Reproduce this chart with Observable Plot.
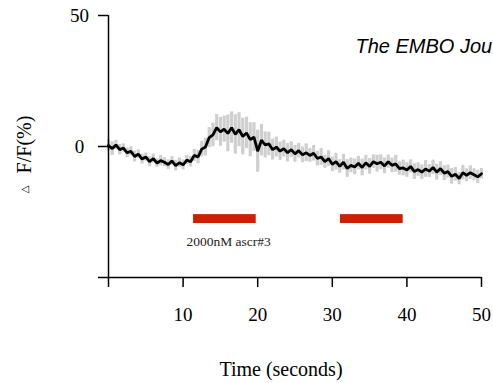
<!DOCTYPE html>
<html>
<head>
<meta charset="utf-8">
<script src="https://cdn.jsdelivr.net/npm/d3@7"></script>
<script src="https://cdn.jsdelivr.net/npm/@observablehq/plot@0.6"></script>
<style>
  html, body { margin: 0; padding: 0; background: #fff; overflow: hidden; }
  #chart { width: 493px; height: 383px; }
</style>
</head>
<body>
<div id="chart"></div>
<script>
// Time (seconds)
const times = [
  0,0.5,1,1.5,2,2.5,3,3.5,4,4.5,
  5,5.5,6,6.5,7,7.5,8,8.5,9,9.5,
  10,10.5,11,11.5,12,12.5,13,13.5,14,14.5,
  15,15.5,16,16.5,17,17.5,18,18.5,19,19.5,
  20,20.5,21,21.5,22,22.5,23,23.5,24,24.5,
  25,25.5,26,26.5,27,27.5,28,28.5,29,29.5,
  30,30.5,31,31.5,32,32.5,33,33.5,34,34.5,
  35,35.5,36,36.5,37,37.5,38,38.5,39,39.5,
  40,40.5,41,41.5,42,42.5,43,43.5,44,44.5,
  45,45.5,46,46.5,47,47.5,48,48.5,49,49.5,
  50
];
// Mean ΔF/F (%)
const meanValues = [
  0.4,-0.8,0.6,-1.2,-0.6,-2.4,-1.8,-3.8,-2.9,-4.8,
  -4.0,-5.8,-4.6,-6.3,-5.4,-6.0,-6.9,-5.5,-7.3,-6.2,
  -7.0,-5.2,-5.8,-3.4,-4.0,-1.0,-0.2,3.4,4.4,7.2,
  5.6,6.6,5.0,7.2,4.6,6.4,3.8,5.2,2.6,3.6,
  -1.8,2.4,0.6,1.0,-1.2,-0.2,-1.8,-0.8,-2.4,-1.2,
  -2.8,-1.6,-3.2,-2.4,-3.4,-2.6,-4.6,-4.0,-5.8,-4.6,
  -6.8,-5.8,-7.6,-6.0,-8.4,-7.2,-7.8,-6.4,-8.0,-6.2,
  -7.6,-5.8,-6.6,-6.0,-7.4,-5.8,-7.2,-6.6,-8.4,-8.2,
  -9.0,-7.6,-9.6,-8.8,-9.8,-8.6,-9.4,-8.0,-9.8,-8.4,
  -10.2,-9.6,-11.4,-10.6,-12.2,-10.0,-11.0,-10.0,-10.8,-11.6,
  -10.4
];
// Error (±, %)
const errValues = [
  2.2,2.6,1.8,2.0,1.6,1.9,1.7,2.1,1.6,1.9,
  1.5,1.9,1.7,1.6,2.0,1.7,1.8,1.6,2.0,1.8,
  1.9,1.7,2.0,2.3,2.6,3.0,3.4,3.8,4.5,5.0,
  5.5,5.0,7.0,6.0,7.5,6.5,7.0,6.0,6.5,5.5,
  8.0,6.0,5.0,4.5,4.0,3.8,3.5,3.2,3.5,3.0,
  3.2,2.8,3.0,3.4,2.6,3.0,2.8,3.2,2.5,3.0,
  2.8,3.2,2.6,3.0,3.4,2.8,3.0,2.6,3.2,2.8,
  3.0,2.6,3.2,2.8,3.0,2.5,2.8,3.2,2.6,3.0,
  2.8,2.5,3.0,2.6,2.8,3.2,2.5,2.8,3.0,2.6,
  2.8,2.5,3.0,2.6,2.4,2.8,2.5,2.6,2.3,2.5,
  2.0
];
// Stimulus periods
const stimStart = [11.4, 31.1];
const stimEnd = [19.8, 39.5];
const stimLow = -29.4;
const stimHigh = -26.0;
const stimLabel = "2000nM ascr#3";
const stimLabelX = 16.1;
const stimLabelY = -36.3;
// Ticks and titles
const xTicks = [0, 10, 20, 30, 40, 50];
const yTicks = [-50, 0, 50];
const xTitle = "Time (seconds)";
const yTitleMain = "F/F(%)";
const yTitleDelta = "\u25B3";
const watermark = "The EMBO Jou";
const watermarkX = 33.1;
const watermarkY = 38.0;

const series = times.map((t, i) => ({t, v: meanValues[i], lo: meanValues[i] - errValues[i], hi: meanValues[i] + errValues[i]}));
const stims = stimStart.map((s, i) => ({x1: s, x2: stimEnd[i], y1: stimLow, y2: stimHigh}));

const serif = "Liberation Serif, Times New Roman, serif";

const plot = Plot.plot({
  width: 493,
  height: 383,
  marginLeft: 108,
  marginRight: 12,
  marginTop: 15,
  marginBottom: 106,
  style: {fontFamily: serif, background: "white", color: "black"},
  x: {domain: [0, 50]},
  y: {domain: [-50, 50]},
  marks: [
    Plot.ruleX(series, {x: "t", y1: "lo", y2: "hi", stroke: "#cfcfcf", strokeWidth: 3.2}),
    Plot.line(series, {x: "t", y: "v", stroke: "black", strokeWidth: 2.8, strokeLinejoin: "miter"}),
    Plot.rect(stims, {x1: "x1", x2: "x2", y1: "y1", y2: "y2", fill: "#cc2000"}),
    Plot.text([stimLabel], {x: stimLabelX, y: stimLabelY, text: d => d, fontSize: 13.5, fontFamily: serif, fill: "#222"}),
    Plot.text([watermark], {x: watermarkX, y: watermarkY, text: d => d, textAnchor: "start", fontSize: 20, fontFamily: "Liberation Sans, Arial, sans-serif", fontStyle: "italic", fill: "black"}),
    Plot.ruleY([-50], {stroke: "black", strokeWidth: 1.5}),
    Plot.ruleX([0], {stroke: "black", strokeWidth: 1.5}),
    Plot.axisX({ticks: xTicks, tickFormat: d => d === 0 ? "" : String(d), tickSize: 10, tickPadding: 20, fontSize: 19, strokeWidth: 1.5, label: null}),
    Plot.axisY({ticks: yTicks, tickFormat: d => d === -50 ? "" : String(d), tickSize: 10, tickPadding: 19, textAnchor: "middle", fontSize: 19, strokeWidth: 1.5, label: null}),
    Plot.text([xTitle], {frameAnchor: "bottom", text: d => d, textAnchor: "middle", lineAnchor: "middle", dx: -14, dy: 92, fontSize: 20, fontFamily: serif, fill: "black"}),
    Plot.text([yTitleMain], {frameAnchor: "left", text: d => d, textAnchor: "middle", lineAnchor: "middle", rotate: -90, dx: -84, dy: -2, fontSize: 20, fontFamily: serif, fill: "black"}),
    Plot.text([yTitleDelta], {frameAnchor: "left", text: d => d, textAnchor: "middle", lineAnchor: "middle", rotate: -90, dx: -84, dy: 43, fontSize: 10, fontFamily: "DejaVu Sans, sans-serif", fill: "black"})
  ]
});
document.getElementById("chart").appendChild(plot);
</script>
</body>
</html>
